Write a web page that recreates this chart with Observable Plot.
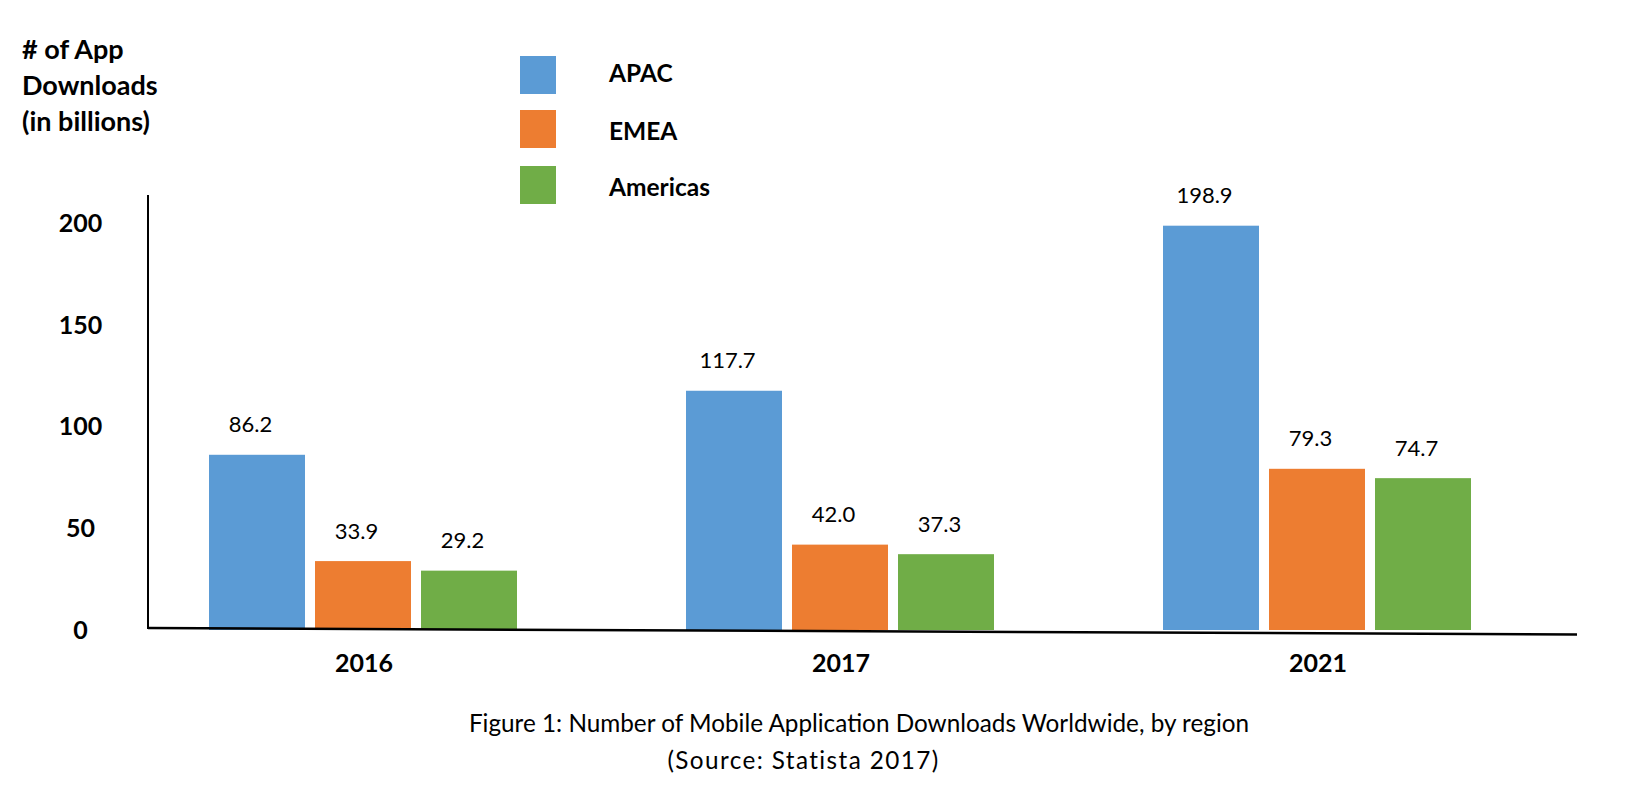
<!DOCTYPE html>
<html><head><meta charset="utf-8">
<script src="https://cdn.jsdelivr.net/npm/d3@7"></script>
<script src="https://cdn.jsdelivr.net/npm/@observablehq/plot@0.6"></script>
<style>
body{margin:0;background:#fff;}
#wrap{position:relative;width:1628px;height:798px;font-family:Lato,"Open Sans",sans-serif;color:#000;}
#wrap svg{position:absolute;left:0;top:0;}
.ytitle{position:absolute;left:22px;top:31px;font-weight:700;font-size:27px;line-height:36px;white-space:nowrap;}
.sw{position:absolute;left:520px;width:36px;height:38px;}
.lg{position:absolute;left:609px;font-weight:700;font-size:24.5px;line-height:30px;height:30px;white-space:nowrap;}
.cap{position:absolute;font-size:24.3px;line-height:36px;height:36px;white-space:nowrap;text-align:center;width:1000px;}
</style></head><body><div id="wrap"></div>
<script>
const years = ["2016", "2017", "2021"];
const regions = ["APAC", "EMEA", "Americas"];
const colors = ["#5B9BD5", "#ED7D31", "#70AD47"];
const apac = [86.2, 117.7, 198.9];
const emea = [33.9, 42.0, 79.3];
const americas = [29.2, 37.3, 74.7];
const yTicks = [0, 50, 100, 150, 200];
const yTitle = ["# of App", "Downloads", "(in billions)"];
const caption = ["Figure 1: Number of Mobile Application Downloads Worldwide, by region", "(Source: Statista 2017)"];

const series = [apac, emea, americas];
const data = years.flatMap((yr, i) => regions.map((r, j) => ({year: yr, region: r, value: series[j][i]})));

const plot = Plot.plot({
  width: 1628, height: 798,
  marginTop: 195, marginBottom: 168, marginLeft: 150, marginRight: 29,
  style: {fontFamily: "Lato, 'Open Sans', sans-serif", background: "transparent", overflow: "visible"},
  fx: {domain: years, paddingInner: 0.104, paddingOuter: 0.0677, align: 0, label: null},
  x: {domain: regions, paddingInner: 0.0935, paddingOuter: 0.549, axis: null},
  y: {domain: [0, 214], label: null},
  color: {domain: regions, range: colors},
  marks: [
    Plot.barY(data, {fx: "year", x: "region", y: "value", fill: "region"}),
    Plot.text(data, {fx: "year", x: "region", y: "value", text: d => d.value.toFixed(1), dy: -30, dx: -7, fontSize: 22, fill: "#000"}),
    Plot.axisY(yTicks, {tickSize: 0, tickPadding: 70, textAnchor: "middle", fontSize: 25, fontWeight: "bold", label: null, fill: "#000"}),
    Plot.axisFx({anchor: "bottom", tickSize: 0, tickPadding: 24, fontSize: 25, fontWeight: "bold", label: null, fill: "#000"})
  ]
});

const wrap = document.getElementById("wrap");
wrap.appendChild(plot);

// axis lines
const ys = plot.scale("y");
const y0 = ys.apply(0);
const yTop = ys.apply(214);
const svg = d3.select(plot);
svg.append("line").attr("x1", 148).attr("x2", 148).attr("y1", yTop).attr("y2", y0 - 1)
  .attr("stroke", "#000").attr("stroke-width", 2);
svg.append("line").attr("x1", 148).attr("x2", 1577).attr("y1", y0 - 2).attr("y2", y0 + 4.5)
  .attr("stroke", "#000").attr("stroke-width", 2.5);

// y title
const t = document.createElement("div");
t.className = "ytitle";
t.innerHTML = yTitle.map(s => `<div>${s}</div>`).join("");
wrap.appendChild(t);

// legend
const swTops = [56, 110, 166];
const lgCenters = [73, 131, 187];
regions.forEach((r, i) => {
  const s = document.createElement("div");
  s.className = "sw"; s.style.top = swTops[i] + "px"; s.style.background = colors[i];
  wrap.appendChild(s);
  const l = document.createElement("div");
  l.className = "lg"; l.style.top = (lgCenters[i] - 15) + "px"; l.textContent = r;
  wrap.appendChild(l);
});

// caption
const capCenters = [[859, 723], [803.5, 760]];
caption.forEach((s, i) => {
  const c = document.createElement("div");
  c.className = "cap";
  c.style.left = (capCenters[i][0] - 500) + "px";
  c.style.top = (capCenters[i][1] - 18) + "px";
  if (i === 1) c.style.letterSpacing = "1.4px";
  c.textContent = s;
  wrap.appendChild(c);
});
</script>
</body></html>
